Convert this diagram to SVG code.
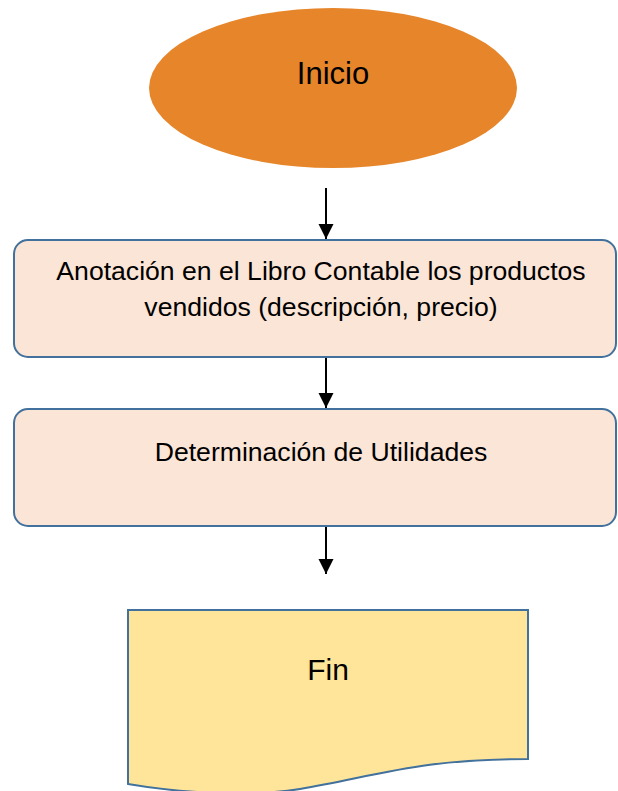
<svg xmlns="http://www.w3.org/2000/svg" width="618" height="791" viewBox="0 0 618 791">
<defs>
<style>
.t{font-family:"Liberation Sans",Arial,sans-serif;fill:#000;text-anchor:middle}
.box{fill:#FBE5D6;stroke:#41719C;stroke-width:2}
.conn{stroke:#000;stroke-width:2;fill:none;marker-end:url(#ah)}
</style>
<marker id="ah" markerUnits="userSpaceOnUse" markerWidth="15" markerHeight="16" refX="15" refY="7.5" orient="auto">
<path d="M0,0 L15,7.5 L0,15 Z" fill="#000"/>
</marker>
</defs>
<rect width="618" height="791" fill="#fff"/>
<g id="connectors">
<line class="conn" x1="326" y1="188" x2="326" y2="239"/>
<line class="conn" x1="326" y1="358" x2="326" y2="408"/>
<line class="conn" x1="326" y1="527" x2="326" y2="574"/>
</g>
<g id="inicio">
<ellipse cx="333" cy="88" rx="184" ry="80" fill="#E6852A"/>
<text class="t" x="333" y="84" font-size="31">Inicio</text>
</g>
<g id="anotacion">
<rect class="box" x="14" y="240" width="602" height="117" rx="14"/>
<text class="t" x="321" y="280" font-size="26.6">Anotación en el Libro Contable los productos</text>
<text class="t" x="321" y="316" font-size="26.6">vendidos (descripción, precio)</text>
</g>
<g id="determinacion">
<rect class="box" x="14" y="409" width="602" height="117" rx="14"/>
<text class="t" x="321" y="461" font-size="26.6">Determinación de Utilidades</text>
</g>
<g id="fin">
<path d="M128,610 H528 V759 C420,759 380,775 300,789 C250,797 180,793 128,784 Z" fill="#FFE599" stroke="#41719C" stroke-width="2"/>
<text class="t" x="328" y="680" font-size="30">Fin</text>
</g>
</svg>
